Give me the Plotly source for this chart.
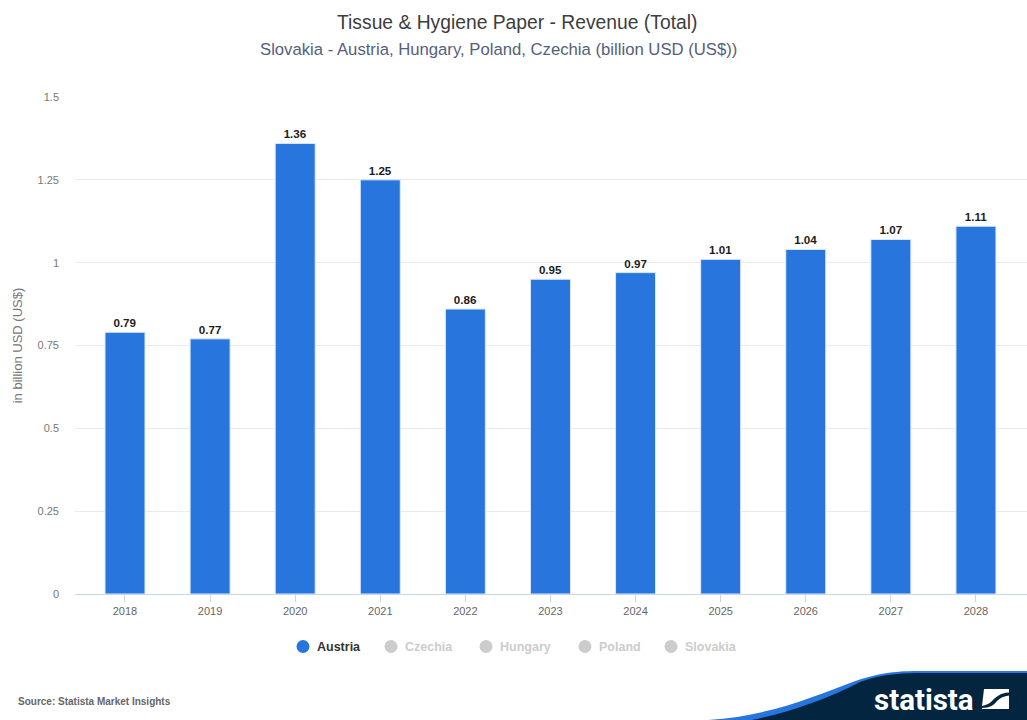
import plotly.graph_objects as go

W, H = 1027, 720
L, R, T, B = 75, 1027, 97, 594

years = ["2018", "2019", "2020", "2021", "2022", "2023", "2024", "2025", "2026", "2027", "2028"]
austria = [0.79, 0.77, 1.36, 1.25, 0.86, 0.95, 0.97, 1.01, 1.04, 1.07, 1.11]
y_ticks = [0, 0.25, 0.5, 0.75, 1, 1.25, 1.5]
y_tick_labels = ["0", "0.25", "0.5", "0.75", "1", "1.25", "1.5"]
legend_names = ["Austria", "Czechia", "Hungary", "Poland", "Slovakia"]
legend_marker_x = [303, 391, 486, 585, 671]

BLUE = "#2775dd"
FONT = "Liberation Sans"


def px(x):
    return (x - L) / (R - L)


def py(y):
    return (B - y) / (B - T)


def path(cmds):
    out = []
    for c in cmds:
        if isinstance(c, str):
            out.append(c)
        else:
            out.append(f"{px(c[0]):.5f},{py(c[1]):.5f}")
    return " ".join(out)


fig = go.Figure(
    go.Bar(
        x=years,
        y=austria,
        width=0.47,
        marker=dict(color=BLUE, line=dict(color="#dfeafa", width=1)),
        text=[f"{v:.2f}" for v in austria],
        textposition="outside",
        cliponaxis=False,
        textfont=dict(family=FONT, size=11.6, color="#1c1c1c", weight="bold"),
        showlegend=False,
    )
)

shapes = []
annotations = [
    dict(text="Tissue &amp; Hygiene Paper - Revenue (Total)", x=px(516.5), y=py(22), xref="paper", yref="paper",
         showarrow=False, xanchor="center", yanchor="middle",
         font=dict(family=FONT, size=19.3, color="#3d3d3d")),
    dict(text="Slovakia - Austria, Hungary, Poland, Czechia (billion USD (US$))", x=px(498), y=py(49.5), xref="paper",
         yref="paper", showarrow=False, xanchor="center", yanchor="middle",
         font=dict(family=FONT, size=16.7, color="#55607c")),
    dict(text="<b>Source: Statista Market Insights</b>", x=px(16), y=py(701.5), xref="paper", yref="paper",
         showarrow=False, xanchor="left", yanchor="middle",
         font=dict(family=FONT, size=10, color="#666666")),
]

for i, (name, mx) in enumerate(zip(legend_names, legend_marker_x)):
    on = i == 0
    shapes.append(dict(type="circle", xref="paper", yref="paper", x0=px(mx - 6.5), x1=px(mx + 6.5),
                       y0=py(646.5 + 6.5), y1=py(646.5 - 6.5), fillcolor=BLUE if on else "#cccccc",
                       line=dict(width=0)))
    annotations.append(dict(text=f"<b>{name}</b>", x=px(mx + 12), y=py(647), xref="paper", yref="paper",
                            showarrow=False, xanchor="left", yanchor="middle",
                            font=dict(family=FONT, size=12.5, color="#333333" if on else "#cccccc")))

# statista brand band, bottom right
shapes.append(dict(type="path", xref="paper", yref="paper", layer="above", line=dict(width=0), fillcolor=BLUE,
                   path=path(["M", (708, 720), "C", (770, 716), (815, 696), (850, 683), "C", (880, 672), (900, 671),
                              (920, 671), "L", (1027, 671), "L", (1027, 720), "Z"])))
shapes.append(dict(type="path", xref="paper", yref="paper", layer="above", line=dict(width=0), fillcolor="#03253f",
                   path=path(["M", (752, 720), "C", (790, 712), (825, 700), (860, 682), "C", (885, 673), (905, 673),
                              (925, 673), "L", (1027, 673), "L", (1027, 720), "Z"])))
shapes.append(dict(type="path", xref="paper", yref="paper", layer="above", line=dict(width=0), fillcolor="#ffffff",
                   path=path(["M", (984, 689), "L", (1009, 689), "L", (1009, 692.5), "C", (1000, 693), (996, 697), (992, 701),
                              "C", (989, 704), (986, 705), (982, 706), "Z"])))
shapes.append(dict(type="path", xref="paper", yref="paper", layer="above", line=dict(width=0), fillcolor="#ffffff",
                   path=path(["M", (1009, 695.5), "L", (1009, 709), "L", (982, 709), "L", (982, 708), "C", (990, 708), (994, 705),
                              (997, 701), "C", (1000, 698), (1004, 696), (1009, 695.5), "Z"])))
annotations.append(dict(text="<b>statista</b>", x=px(872), y=py(699.5), xref="paper", yref="paper",
                        showarrow=False, xanchor="left", yanchor="middle",
                        font=dict(family="Roboto", size=29.5, color="#ffffff")))

fig.update_layout(
    width=W,
    height=H,
    autosize=False,
    margin=dict(l=L, r=W - R, t=T, b=H - B, pad=0),
    paper_bgcolor="#ffffff",
    plot_bgcolor="#ffffff",
    font=dict(family=FONT, size=11, color="#666666"),
    bargap=0.53,
    showlegend=False,
    shapes=shapes,
    annotations=annotations,
    xaxis=dict(
        type="category",
        categoryorder="array",
        categoryarray=years,
        range=[-0.5875, 10.6],
        showgrid=False,
        showline=True,
        linecolor="#ccd6eb",
        linewidth=1,
        ticks="outside",
        ticklen=7,
        tickcolor="#ccd6eb",
        tickfont=dict(family=FONT, size=11, color="#666666"),
        fixedrange=True,
    ),
    yaxis=dict(
        range=[0, 1.5],
        tickvals=y_ticks,
        ticktext=y_tick_labels,
        showgrid=True,
        gridcolor="#eaeaea",
        gridwidth=1,
        zeroline=False,
        showline=False,
        ticklabelstandoff=15,
        tickfont=dict(family=FONT, size=11, color="#777777"),
        title=dict(text="in billion USD (US$)", font=dict(family=FONT, size=13, color="#777777"), standoff=12),
        fixedrange=True,
    ),
)

fig.write_html("out.html", config=dict(displayModeBar=False),
               post_script="document.body.style.margin='0';document.body.style.overflow='hidden';")
